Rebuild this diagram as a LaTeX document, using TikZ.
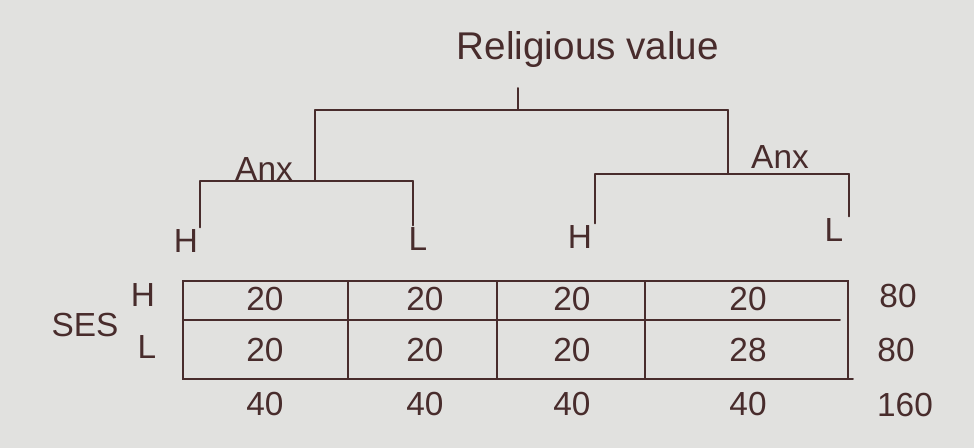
\documentclass[tikz,border=0pt]{standalone}
\usepackage{fontspec}
\setmainfont{Liberation Sans}
\usetikzlibrary{positioning}
\definecolor{ink}{RGB}{72,44,44}
\definecolor{paper}{RGB}{225,225,223}
\tikzset{
  lbl/.style  = {text=ink, font=\fontsize{19}{22}\selectfont, inner sep=1pt},
  num/.style  = {text=ink, font=\fontsize{19}{22}\selectfont, inner sep=1pt},
  ln/.style   = {draw=ink, line width=1.1pt, line cap=round},
}

\begin{document}
\begin{tikzpicture}[x=0.02cm, y=-0.02cm]
  \fill[paper] (0,0) rectangle (974,448);
  % tree of the two factors
  \node[lbl, font=\fontsize{22}{26}\selectfont] (rv) at (588,50) {Religious value};
  \coordinate (tick) at (518,88);
  \coordinate (rvj) at (518,110);
  \coordinate (lt) at (315,110);
  \coordinate (rt) at (728,110);
  \coordinate (lj) at (315,181);
  \coordinate (rj) at (728,174);
  \coordinate (lh) at (200,181);
  \coordinate (ll) at (413,181);
  \coordinate (rh) at (595,174);
  \coordinate (rl) at (849,174);
  \node[lbl] (anxl) at (264,169) {Anx};
  \node[lbl] (anxr) at (780,157) {Anx};
  \node[lbl] (h1) at (186,241) {H};
  \node[lbl] (l1) at (418,239) {L};
  \node[lbl] (h2) at (580,237) {H};
  \node[lbl] (l2) at (834,230) {L};
  \draw[ln] (tick) -- (rvj);
  \draw[ln] (lt) -- (rt);
  \draw[ln] (lt) -- (lj);
  \draw[ln] (rt) -- (rj);
  \draw[ln] (lh) -- (ll);
  \draw[ln] (rh) -- (rl);
  \draw[ln] (lh) -- (h1.north -| lh);
  \draw[ln] (ll) -- (l1.north -| ll);
  \draw[ln] (rh) -- (h2.north -| rh);
  \draw[ln] (rl) -- (l2.north -| rl);
  % table of cell counts
  \draw[ln] (183,281) rectangle (848,379);
  \draw[ln] (183,320) -- (840,320);
  \foreach \x in {348,497,645} {
    \draw[ln] (\x,281) -- (\x,379);
  }
  \draw[ln] (848,379) -- (853,379);
  \node[lbl] (ses) at (85,325) {SES};
  \node[lbl] (rh1) at (143,295) {H};
  \node[lbl] (rl1) at (147,347) {L};
  \foreach \x/\a/\b in {265/20/20, 425/20/20, 572/20/20, 748/20/28} {
    \node[num] at (\x,299) {\a};
    \node[num] at (\x,350) {\b};
    \node[num] at (\x,404) {40};
  }
  \node[num] (th) at (898,296) {80};
  \node[num] (tl) at (896,350) {80};
  \node[num] (tt) at (905,405) {160};
\end{tikzpicture}
\end{document}
